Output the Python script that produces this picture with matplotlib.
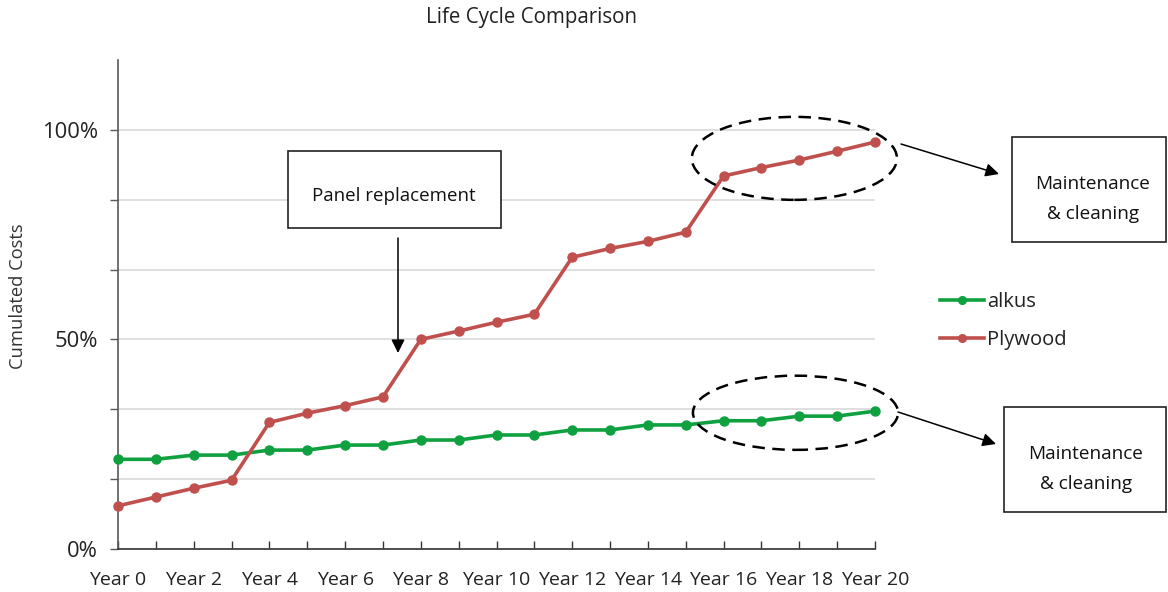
import matplotlib
matplotlib.use("Agg")
import matplotlib.pyplot as plt
from matplotlib.patches import Ellipse, Rectangle, FancyArrowPatch

plt.rcParams['font.family'] = ['Open Sans', 'DejaVu Sans']

years = list(range(21))
year_labels = [f"Year {y}" if y % 2 == 0 else "" for y in years]
alkus = [0.214, 0.214, 0.224, 0.224, 0.236, 0.236, 0.248, 0.248, 0.260, 0.260,
         0.272, 0.272, 0.284, 0.284, 0.296, 0.296, 0.306, 0.306, 0.317, 0.317, 0.329]
plywood = [0.103, 0.124, 0.145, 0.164, 0.302, 0.324, 0.342, 0.363, 0.500, 0.520,
           0.541, 0.560, 0.696, 0.717, 0.734, 0.756, 0.890, 0.910, 0.928, 0.949, 0.971]
ytick_vals = [k / 6 for k in range(7)]
ytick_labels = ["0%", "", "", "50%", "", "", "100%"]

GREEN = '#0FA040'
RED = '#C0504D'
W, H = 1168, 592

fig = plt.figure(figsize=(W / 100, H / 100), dpi=100)
ax = fig.add_axes([118 / W, 1 - 549 / H, (875 - 118) / W, (549 - 60) / H])

def fx(px):
    return px / W

def fy(py):
    return 1 - py / H

ax.plot(years, alkus, color=GREEN, lw=2.6, marker='o', ms=6.5, label='alkus', clip_on=False, zorder=3)
ax.plot(years, plywood, color=RED, lw=2.6, marker='o', ms=6.5, label='Plywood', clip_on=False, zorder=3)

ax.set_xlim(0, 20)
ax.set_ylim(0, 7 / 6)
ax.set_yticks(ytick_vals)
ax.set_yticklabels(ytick_labels, fontsize=15.8, color='#222222')
ax.set_xticks(years)
ax.set_xticklabels(year_labels, fontsize=14, color='#222222')
ax.tick_params(axis='y', direction='out', length=6, width=1, color='#595959', pad=8.5)
ax.tick_params(axis='x', direction='in', length=6, width=1, color='#333333', pad=15.5)
for s in ['top', 'right']:
    ax.spines[s].set_visible(False)
ax.spines['left'].set_color('#595959')
ax.spines['bottom'].set_color('#333333')
ax.spines['left'].set_linewidth(1.2)
ax.spines['bottom'].set_linewidth(1.2)
ax.grid(axis='y', color='#D9D9D9', lw=1.2)
ax.set_axisbelow(True)

fig.text(fx(18), fy(296), "Cumulated Costs", rotation=90, ha='center', va='center',
         fontsize=13.2, color='#333333')

fig.text(fx(532), fy(18), "Life Cycle Comparison", ha='center', va='center', fontsize=14.8, color='#222222')

# Legend
leg = fig.legend(handles=ax.get_lines(), loc='center left', bbox_to_anchor=(fx(940), fy(321)),
                 frameon=False, fontsize=14.5, handlelength=2.2, handletextpad=0.15,
                 labelspacing=0.88, borderaxespad=0, borderpad=0, markerscale=0.85)
for t in leg.get_texts():
    t.set_color('#222222')

# Ellipses around final years
ax.add_patch(Ellipse((17.87, 0.932), 5.42, 0.198, fill=False, ls=(0, (5, 3)), lw=1.8,
                     ec='black', clip_on=False, zorder=4))
ax.add_patch(Ellipse((17.9, 0.325), 5.42, 0.177, fill=False, ls=(0, (5, 3)), lw=1.8,
                     ec='black', clip_on=False, zorder=4))

# Boxes
def box(x0, y0, x1, y1):
    fig.patches.append(Rectangle((fx(x0), fy(y1)), fx(x1) - fx(x0), fy(y0) - fy(y1),
                                 transform=fig.transFigure, fill=True, fc='white',
                                 ec='#222222', lw=1.2, zorder=5))

box(288, 151, 501, 228)
fig.text(fx(394), fy(196), "Panel replacement", ha='center', va='center', fontsize=13.5, color='#111111', zorder=6)
box(1012, 137, 1166, 242)
fig.text(fx(1093), fy(199), "Maintenance\n& cleaning", ha='center', va='center', fontsize=13.7,
         color='#111111', linespacing=1.8, zorder=6)
box(1004, 407, 1166, 512)
fig.text(fx(1086), fy(469), "Maintenance\n& cleaning", ha='center', va='center', fontsize=13.7,
         color='#111111', linespacing=1.8, zorder=6)

# Arrows
arrow_kw = dict(arrowstyle='-|>', color='black', lw=1.1, mutation_scale=20, shrinkA=0, shrinkB=0)
fig.add_artist(FancyArrowPatch((fx(398), fy(238)), (fx(398), fy(353)),
                               transform=fig.transFigure, **arrow_kw))
fig.add_artist(FancyArrowPatch((fx(901), fy(144)), (fx(999), fy(174)),
                               transform=fig.transFigure, **arrow_kw))
fig.add_artist(FancyArrowPatch((fx(898), fy(412)), (fx(996), fy(444)),
                               transform=fig.transFigure, **arrow_kw))

fig.savefig("out.png", dpi=100, facecolor='white')
